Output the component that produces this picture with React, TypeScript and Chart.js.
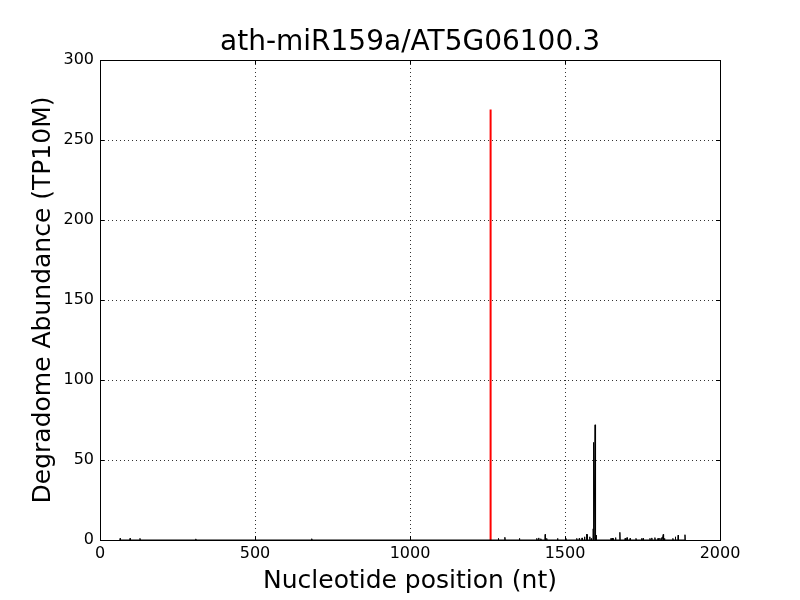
import React, { useEffect, useRef } from "react";
import { Chart, registerables } from "chart.js";

Chart.register(...registerables);

const TITLE = "ath-miR159a/AT5G06100.3";
const X_LABEL = "Nucleotide position (nt)";
const Y_LABEL = "Degradome Abundance (TP10M)";

// Degradome reads (black)
const positions = [
  65, 97, 129, 309, 683,
  1285, 1306, 1353, 1409, 1415, 1422, 1436, 1441, 1476, 1503,
  1538, 1546, 1555, 1563, 1570, 1572, 1580, 1585, 1591, 1593, 1597, 1600,
  1648, 1652, 1656, 1663, 1677, 1694, 1700, 1710, 1729, 1747, 1752,
  1774, 1780, 1790, 1800, 1806, 1812, 1817, 1821, 1848, 1856, 1865, 1887,
];
const abundance = [
  1, 1, 1, 0.7, 0.8,
  1, 1.7, 1, 1, 1.3, 0.8, 3.5, 1, 1, 1,
  1, 1, 1.3, 2, 3.7, 3.5, 2, 1, 7, 61, 72, 3,
  1, 1.2, 1, 1.5, 4.8, 1, 1.5, 1, 1, 1, 1,
  1, 1.3, 1.5, 1, 1.2, 1.5, 3.5, 1, 1, 2, 3, 3.3,
];

// Cleavage site (red)
const cleavagePosition = 1260;
const cleavageAbundance = 269;

const xTicks = [0, 500, 1000, 1500, 2000];
const yTicks = [0, 50, 100, 150, 200, 250, 300];

export default function App() {
  const ref = useRef<HTMLCanvasElement | null>(null);

  useEffect(() => {
    if (!ref.current) return;
    Chart.defaults.font.family = "'DejaVu Sans', sans-serif";
    Chart.defaults.color = "#000";

    const blackData: { x: number; y: number }[] = [];
    positions.forEach((p, i) => {
      blackData.push({ x: p - 1, y: 0 });
      blackData.push({ x: p, y: abundance[i] });
      blackData.push({ x: p + 1, y: 0 });
    });

    const frame = {
      id: "frame",
      afterDraw(chart: any) {
        const { ctx, chartArea: a, scales } = chart;
        ctx.save();
        ctx.strokeStyle = "#000";
        ctx.lineWidth = 1;
        ctx.beginPath();
        const t = 4;
        xTicks.forEach((v) => {
          const x = Math.round(scales.x.getPixelForValue(v)) + 0.5;
          ctx.moveTo(x, a.bottom);
          ctx.lineTo(x, a.bottom - t);
          ctx.moveTo(x, a.top);
          ctx.lineTo(x, a.top + t);
        });
        yTicks.forEach((v) => {
          const y = Math.round(scales.y.getPixelForValue(v)) + 0.5;
          ctx.moveTo(a.left, y);
          ctx.lineTo(a.left + t, y);
          ctx.moveTo(a.right, y);
          ctx.lineTo(a.right - t, y);
        });
        ctx.stroke();
        ctx.strokeRect(
          Math.round(a.left) + 0.5,
          Math.round(a.top) + 0.5,
          Math.round(a.right - a.left),
          Math.round(a.bottom - a.top)
        );
        ctx.restore();
      },
    };

    const chart = new Chart(ref.current, {
      type: "line",
      data: {
        datasets: [
          {
            data: blackData,
            borderColor: "#000",
            borderWidth: 1,
            pointRadius: 0,
            tension: 0,
          },
          {
            data: [
              { x: cleavagePosition, y: 0 },
              { x: cleavagePosition, y: cleavageAbundance },
            ],
            borderColor: "#ff0000",
            borderWidth: 2,
            pointRadius: 0,
          },
        ],
      },
      options: {
        animation: false,
        responsive: false,
        layout: { padding: { left: 0, right: 80, top: 0, bottom: 0 } },
        plugins: {
          legend: { display: false },
          tooltip: { enabled: false },
          title: {
            display: true,
            text: TITLE,
            fullSize: false,
            color: "#000",
            font: { size: 28, weight: "normal" },
            padding: { top: 26.4, bottom: 0 },
          },
        },
        scales: {
          x: {
            type: "linear",
            min: 0,
            max: 2000,
            afterBuildTicks: (s: any) => {
              s.ticks = xTicks.map((v) => ({ value: v }));
            },
            afterFit: (s: any) => {
              s.height = 60;
            },
            ticks: {
              font: { size: 16 },
              color: "#000",
              padding: 4,
              maxRotation: 0,
              callback: (v: any) => String(v),
            },
            grid: { color: "rgba(0,0,0,0.8)", lineWidth: 1, drawTicks: false },
            border: { display: false, dash: [1, 3] },
            title: {
              display: true,
              text: X_LABEL,
              color: "#000",
              font: { size: 25 },
              padding: { top: 0, bottom: 4 },
            },
          },
          y: {
            type: "linear",
            min: 0,
            max: 300,
            afterBuildTicks: (s: any) => {
              s.ticks = yTicks.map((v) => ({ value: v }));
            },
            afterFit: (s: any) => {
              s.width = 100;
            },
            ticks: {
              font: { size: 16 },
              color: "#000",
              padding: 6,
              callback: (v: any) => String(v),
            },
            grid: { color: "rgba(0,0,0,0.8)", lineWidth: 1, drawTicks: false },
            border: { display: false, dash: [1, 3] },
            title: {
              display: true,
              text: Y_LABEL,
              color: "#000",
              font: { size: 25 },
              padding: { top: 28, bottom: 0 },
            },
          },
        },
      },
      plugins: [frame],
    } as any);
    return () => chart.destroy();
  }, []);

  return (
    <div style={{ position: "fixed", left: 0, top: 0, width: 800, height: 600, background: "#fff" }}>
      <canvas ref={ref} width={800} height={600} />
    </div>
  );
}
